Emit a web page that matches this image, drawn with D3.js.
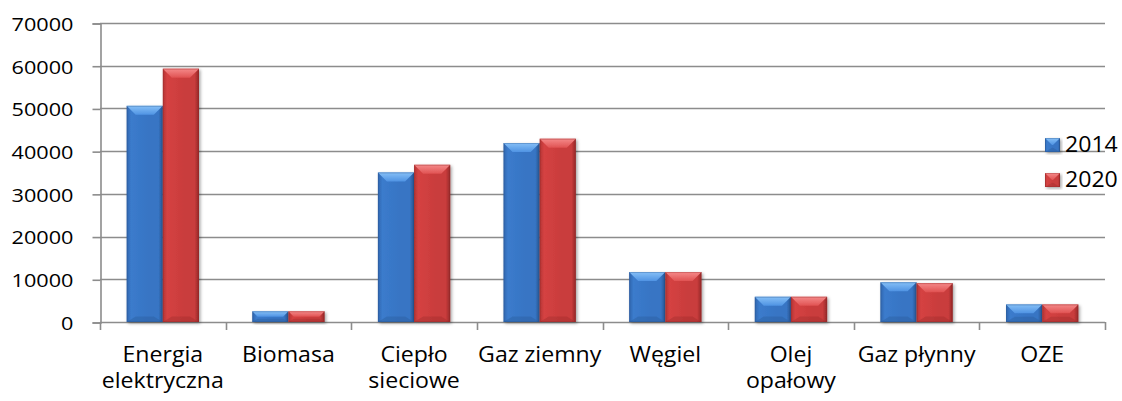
<!DOCTYPE html>
<html>
<head>
<meta charset="utf-8">
<script src="https://cdn.jsdelivr.net/npm/d3@7"></script>
<style>
  html, body { margin: 0; padding: 0; background: #fff; }
  svg { display: block; }
  text { font-family: "Open Sans", sans-serif; fill: #000; }
</style>
</head>
<body>
<svg id="chart" width="1122" height="401"></svg>
<script>
// Zużycie energii wg nośnika, lata 2014 i 2020
const categories = [
  ["Energia", "elektryczna"],
  ["Biomasa"],
  ["Ciepło", "sieciowe"],
  ["Gaz ziemny"],
  ["Węgiel"],
  ["Olej", "opałowy"],
  ["Gaz płynny"],
  ["OZE"]
];
const seriesNames = ["2014", "2020"];
const values2014 = [50600, 2500, 35000, 41900, 11700, 5900, 9300, 4100];
const values2020 = [59300, 2500, 36800, 42900, 11700, 5900, 9100, 4100];
const yTicks = [0, 10000, 20000, 30000, 40000, 50000, 60000, 70000];

const series = [
  { name: seriesNames[0], values: values2014, key: "blue" },
  { name: seriesNames[1], values: values2020, key: "red" }
];

const palette = {
  blue: { edgeL: "#2f65ad", main: "#3b7bcc", mid: "#3775c4", edgeR: "#27528d",
          topA: "#86c0f7", topB: "#4f93e3", bottom: "#2c5f9f" },
  red:  { edgeL: "#b33434", main: "#d54242", mid: "#c93c3c", edgeR: "#922828",
          topA: "#f58a8a", topB: "#e05252", bottom: "#a52e2e" }
};

const svg = d3.select("#chart");
const margin = { left: 100, right: 17, top: 23, bottom: 79 };
const W = 1122, H = 401;
const x0 = margin.left, x1 = W - margin.right;
const yTop = margin.top, yBot = H - margin.bottom;

const x = d3.scaleBand()
  .domain(d3.range(categories.length))
  .range([x0, x1])
  .paddingInner(0.4242)
  .paddingOuter(0.2121);
const xs = d3.scaleBand()
  .domain(d3.range(series.length))
  .range([0, x.bandwidth()]);
const y = d3.scaleLinear().domain([0, 70000]).range([yBot, yTop]);

// gradients
const defs = svg.append("defs");
Object.entries(palette).forEach(([k, c]) => {
  const gh = defs.append("linearGradient").attr("id", "body-" + k)
    .attr("x1", 0).attr("x2", 1).attr("y1", 0).attr("y2", 0);
  gh.append("stop").attr("offset", "0%").attr("stop-color", c.edgeL);
  gh.append("stop").attr("offset", "12%").attr("stop-color", c.main);
  gh.append("stop").attr("offset", "60%").attr("stop-color", c.mid);
  gh.append("stop").attr("offset", "88%").attr("stop-color", c.mid);
  gh.append("stop").attr("offset", "100%").attr("stop-color", c.edgeR);
  const gt = defs.append("linearGradient").attr("id", "top-" + k)
    .attr("x1", 0).attr("x2", 0).attr("y1", 0).attr("y2", 1);
  gt.append("stop").attr("offset", "0%").attr("stop-color", c.topA);
  gt.append("stop").attr("offset", "100%").attr("stop-color", c.topB);
});
const shadow = defs.append("filter").attr("id", "shadow")
  .attr("x", "-10%").attr("y", "-10%").attr("width", "130%").attr("height", "130%");
shadow.append("feDropShadow").attr("dx", 1.5).attr("dy", 1.5)
  .attr("stdDeviation", 1.5).attr("flood-color", "#000").attr("flood-opacity", 0.35);

// gridlines
svg.append("g").selectAll("line")
  .data(yTicks.filter(t => t > 0))
  .join("line")
  .attr("x1", x0).attr("x2", x1)
  .attr("y1", d => Math.round(y(d)) + 0.5).attr("y2", d => Math.round(y(d)) + 0.5)
  .attr("stroke", "#8c8c8c").attr("stroke-width", 1.6);

// y axis
const yAxis = d3.axisLeft(y).tickValues(yTicks).tickSize(8).tickPadding(19)
  .tickFormat(d3.format("d"));
const gy = svg.append("g").attr("transform", `translate(${x0 + 0.5},0.5)`).call(yAxis);
gy.select(".domain").attr("stroke", "#8c8c8c").attr("stroke-width", 1.6);
gy.selectAll(".tick line").attr("stroke", "#8c8c8c").attr("stroke-width", 1.6);
gy.selectAll(".tick text").style("font-family", "Open Sans, sans-serif")
  .style("font-size", "19px").attr("dy", "0.36em")
  .attr("transform", "scale(1.14,1)").attr("x", -27 / 1.14);

// x axis: line and category boundary ticks
const gx = svg.append("g");
gx.append("line").attr("x1", x0).attr("x2", x1)
  .attr("y1", yBot + 0.5).attr("y2", yBot + 0.5)
  .attr("stroke", "#8c8c8c").attr("stroke-width", 1.6);
const step = x.step();
gx.selectAll("line.tk").data(d3.range(categories.length + 1)).join("line")
  .attr("class", "tk")
  .attr("x1", i => Math.round(x0 + i * step) + 0.5).attr("x2", i => Math.round(x0 + i * step) + 0.5)
  .attr("y1", yBot).attr("y2", yBot + 8)
  .attr("stroke", "#8c8c8c").attr("stroke-width", 1.6);

// category labels
const lab = svg.append("g").selectAll("text").data(categories).join("text")
  .attr("text-anchor", "middle")
  .attr("transform", (d, i) => `translate(${x(i) + x.bandwidth() / 2},0) scale(1.1,1)`)
  .style("font-size", "21px");
lab.each(function (lines) {
  d3.select(this).selectAll("tspan").data(lines).join("tspan")
    .attr("x", 0).attr("y", (d, j) => 362 + j * 26)
    .text(d => d);
});

// bevelled bar
function bevelBar(g, bx, by, bw, bh, key) {
  const b = Math.min(9, bh / 2);
  const grp = g.append("g").attr("filter", "url(#shadow)");
  grp.append("rect").attr("x", bx).attr("y", by).attr("width", bw).attr("height", bh)
    .attr("fill", `url(#body-${key})`);
  // bottom bevel
  grp.append("polygon")
    .attr("points", [[bx, by + bh], [bx + bw, by + bh], [bx + bw - b, by + bh - b * 0.6], [bx + b, by + bh - b * 0.6]].map(p => p.join(",")).join(" "))
    .attr("fill", palette[key].bottom).attr("opacity", 0.45);
  // top bevel
  grp.append("polygon")
    .attr("points", [[bx, by], [bx + bw, by], [bx + bw - b, by + b], [bx + b, by + b]].map(p => p.join(",")).join(" "))
    .attr("fill", `url(#top-${key})`);
  grp.append("rect").attr("x", bx + 0.5).attr("y", by + 0.5).attr("width", bw - 1).attr("height", Math.max(0, bh - 1))
    .attr("fill", "none").attr("stroke", palette[key].edgeR).attr("stroke-opacity", 0.35);
}

const bars = svg.append("g");
categories.forEach((c, i) => {
  series.forEach((s, j) => {
    const v = s.values[i];
    bevelBar(bars, x(i) + xs(j), y(v), xs.bandwidth(), y(0) - y(v), s.key);
  });
});

// legend
const leg = svg.append("g");
series.forEach((s, j) => {
  const ly = 138 + j * 35;
  bevelBar(leg, 1045, ly, 15, 14, s.key);
  leg.append("text").attr("transform", `translate(1065,${ly + 14}) scale(1.1,1)`)
    .style("font-size", "21px").text(s.name);
});
</script>
</body>
</html>
